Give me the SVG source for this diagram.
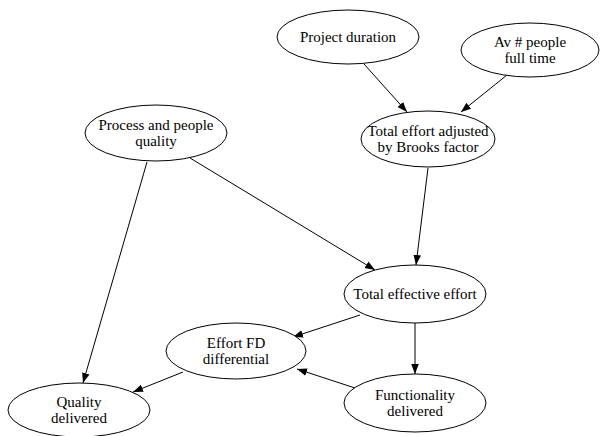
<svg xmlns="http://www.w3.org/2000/svg" width="600" height="436" viewBox="0 0 600 436">
  <style>
    .node ellipse { fill: #ffffff; stroke: #000000; stroke-width: 1; }
    .node text { font-family: "Liberation Serif", "Times New Roman", serif; font-size: 15px; fill: #000000; text-anchor: middle; }
    .edges line { stroke: #000000; stroke-width: 1; marker-end: url(#arrow); }
  </style>
  <defs>
    <!-- filled triangular arrowhead, tip at the line end -->
    <marker id="arrow" viewBox="0 0 10 10" refX="10" refY="5" markerWidth="10" markerHeight="10" markerUnits="userSpaceOnUse" orient="auto">
      <path d="M0,1.2 L10,5 L0,8.8 Z" fill="#000000"/>
    </marker>
  </defs>
  <rect width="600" height="436" fill="#ffffff"/>

  <g class="edges">
    <line x1="364" y1="64" x2="407" y2="112"/>
    <line x1="507" y1="75" x2="461" y2="112"/>
    <line x1="428" y1="168" x2="416" y2="265"/>
    <line x1="190" y1="158" x2="375" y2="270"/>
    <line x1="147" y1="162" x2="83" y2="383"/>
    <line x1="360" y1="315" x2="293" y2="337"/>
    <line x1="415" y1="323" x2="415" y2="374"/>
    <line x1="355" y1="388" x2="297" y2="369"/>
    <line x1="183" y1="372" x2="133" y2="392"/>
  </g>

  <g id="project-duration" class="node">
    <ellipse cx="348" cy="37" rx="71" ry="27"/>
    <text x="348" y="42">Project duration</text>
  </g>
  <g id="av-people-full-time" class="node">
    <ellipse cx="530" cy="50" rx="69" ry="27"/>
    <text x="530" y="47">Av # people</text>
    <text x="530" y="63">full time</text>
  </g>
  <g id="total-effort-adjusted" class="node">
    <ellipse cx="428" cy="139" rx="67" ry="28"/>
    <text x="428" y="136">Total effort adjusted</text>
    <text x="428" y="152">by Brooks factor</text>
  </g>
  <g id="process-people-quality" class="node">
    <ellipse cx="156" cy="133" rx="71" ry="28"/>
    <text x="156" y="130">Process and people</text>
    <text x="156" y="146">quality</text>
  </g>
  <g id="total-effective-effort" class="node">
    <ellipse cx="415" cy="294" rx="71" ry="29"/>
    <text x="415" y="299">Total effective effort</text>
  </g>
  <g id="effort-fd-differential" class="node">
    <ellipse cx="236" cy="351" rx="70" ry="28"/>
    <text x="236" y="348">Effort FD</text>
    <text x="236" y="364">differential</text>
  </g>
  <g id="functionality-delivered" class="node">
    <ellipse cx="415" cy="403" rx="71" ry="29"/>
    <text x="415" y="400">Functionality</text>
    <text x="415" y="416">delivered</text>
  </g>
  <g id="quality-delivered" class="node">
    <ellipse cx="79" cy="410" rx="71" ry="27"/>
    <text x="79" y="407">Quality</text>
    <text x="79" y="423">delivered</text>
  </g>
</svg>
